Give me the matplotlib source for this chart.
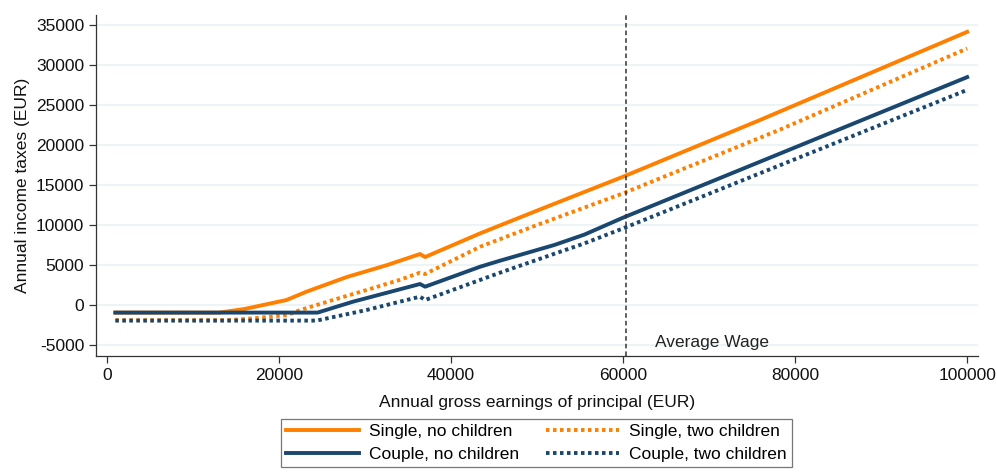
import matplotlib.pyplot as plt

plt.rcParams['font.family'] = ['Liberation Sans', 'DejaVu Sans']
plt.rcParams['axes.unicode_minus'] = False

# Data (EUR)
single_x = [1000, 13100, 16000, 20900, 23200, 27900, 32600, 36400, 37000,
            43400, 50000, 60000, 75900, 100000]
single_y = [-950, -950, -500, 625, 1660, 3500, 5000, 6375, 6000,
            8960, 11800, 16040, 23125, 34160]

single2_x = [1000, 14000, 17000, 21000, 22500, 26300, 30200, 34000, 36400, 37000,
             43400, 50000, 60000, 78300, 100000]
single2_y = [-1900, -1900, -1670, -1250, -625, 625, 1875, 3125, 4040, 3875,
             7290, 10000, 13960, 21960, 32080]

couple_x = [1000, 24500, 28600, 36400, 37000, 43400, 45700, 52000, 55500,
            60000, 100000]
couple_y = [-950, -950, 410, 2625, 2290, 4790, 5540, 7500, 8800,
            10920, 28500]

couple2_x = [1000, 24400, 30200, 36400, 37000, 45700, 52000, 55500, 60000, 100000]
couple2_y = [-1950, -1950, -625, 1040, 625, 4040, 6400, 7700, 9580, 26900]

avg_wage = 60400

orange = '#ff8000'
navy = '#1a476f'

fig = plt.figure(figsize=(9.97, 4.74), dpi=100)
ax = fig.add_axes([0.0963, 0.249, 0.885, 0.719])

lw = 2.8
ax.plot(single_x, single_y, color=orange, lw=lw, label='Single, no children')
ax.plot(single2_x, single2_y, color=orange, lw=lw, linestyle=(0, (0.9, 0.9)),
        label='Single, two children')
ax.plot(couple_x, couple_y, color=navy, lw=lw, label='Couple, no children')
ax.plot(couple2_x, couple2_y, color=navy, lw=lw, linestyle=(0, (0.9, 0.9)),
        label='Couple, two children')

ax.axvline(avg_wage, color='#333333', lw=1.1, linestyle=(0, (3, 2)))
ax.text(63700, -4750, 'Average Wage', fontsize=12.5, va='center', ha='left',
        color='#222222')

ax.set_xlim(-1250, 101300)
ax.set_ylim(-6375, 36250)
ax.set_xticks([0, 20000, 40000, 60000, 80000, 100000])
ax.set_yticks(range(-5000, 35001, 5000))
ax.yaxis.grid(True, color='#eaf2f3', lw=1.2)
ax.set_axisbelow(True)

for s in ['top', 'right']:
    ax.spines[s].set_visible(False)
for s in ['left', 'bottom']:
    ax.spines[s].set_color('#333333')
    ax.spines[s].set_linewidth(0.9)
ax.tick_params(direction='out', length=5, width=0.9, colors='#333333',
               labelsize=12.5, labelcolor='#111111')

ax.set_xlabel('Annual gross earnings of principal (EUR)', fontsize=12.5,
              color='#111111', labelpad=9)
ax.set_ylabel('Annual income taxes (EUR)', fontsize=12.5, color='#111111',
              labelpad=4)

handles, labels = ax.get_legend_handles_labels()
order = [0, 2, 1, 3]
leg = fig.legend([handles[i] for i in order], [labels[i] for i in order],
                 loc='upper center', bbox_to_anchor=(0.538, 0.135), ncol=2,
                 fontsize=12.5, frameon=True, fancybox=False, edgecolor='#555555',
                 handlelength=4.2, columnspacing=1.5, borderpad=0.3,
                 labelspacing=0.45, handletextpad=0.6)
leg.get_frame().set_linewidth(0.9)

fig.savefig('out.png', dpi=100)
